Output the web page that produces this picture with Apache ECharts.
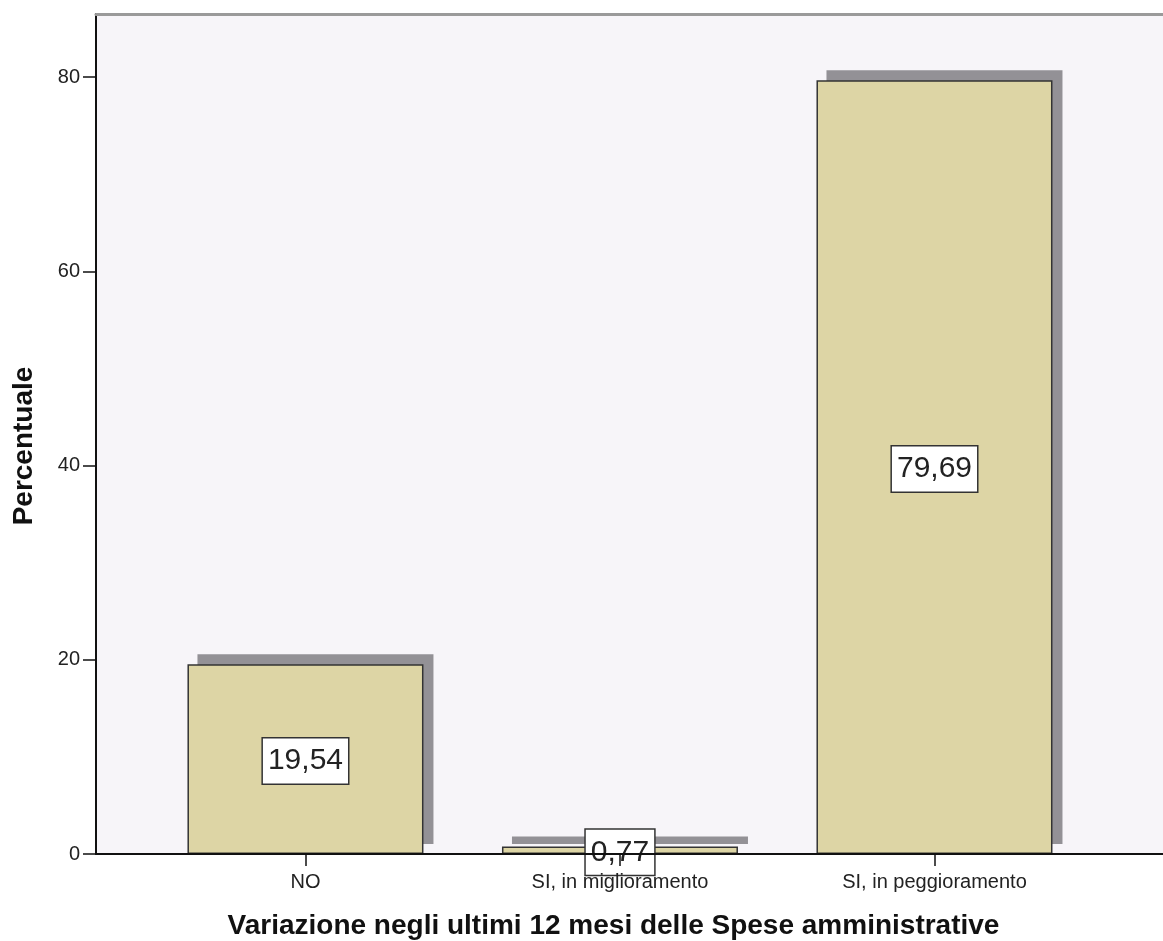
<!DOCTYPE html>
<html>
<head>
<meta charset="utf-8">
<script src="https://cdn.jsdelivr.net/npm/echarts@6/dist/echarts.min.js"></script>
<style>
  html, body { margin: 0; padding: 0; background: #ffffff; }
  #chart { width: 1163px; height: 941px; }
</style>
</head>
<body>
<div id="chart"></div>
<script>
const categories = ['NO', 'SI, in miglioramento', 'SI, in peggioramento'];
const percentages = [19.54, 0.77, 79.69];
const categoryPositions = [0, 1, 2];
const yTicks = [0, 20, 40, 60, 80];
const xTitle = 'Variazione negli ultimi 12 mesi delle Spese amministrative';
const yTitle = 'Percentuale';

const FONT = "'Liberation Sans', Arial, sans-serif";
const X_MIN = -0.666, X_MAX = 2.7266, Y_MIN = 0, Y_MAX = 86.5;
const chart = echarts.init(document.getElementById('chart'), null, { renderer: 'canvas' });

const barData = categoryPositions.map((p, i) => [p, percentages[i]]);

const option = {
  animation: false,
  backgroundColor: '#ffffff',
  grid: [
    { left: 96, top: 14, width: 1067, height: 840, show: true, backgroundColor: '#F7F5F9', borderWidth: 0, outerBoundsMode: 'none' },
    // drop-shadow layer: same scales, shifted 10px right and 10px up
    { left: 106, top: 4, width: 1067, height: 840, show: false, outerBoundsMode: 'none' }
  ],
  xAxis: [
    {
      type: 'value', gridIndex: 0,
      min: X_MIN, max: X_MAX,
      position: 'bottom',
      z: 10,
      axisLine: { show: true, onZero: false, lineStyle: { color: '#111', width: 2 } },
      axisTick: { show: true, customValues: categoryPositions, length: 12, lineStyle: { color: '#111', width: 1.5 } },
      axisLabel: {
        show: true, customValues: categoryPositions, margin: 18,
        formatter: v => categories[Math.round(v)] || '',
        fontFamily: FONT, fontSize: 20, color: '#222'
      },
      splitLine: { show: false },
      name: xTitle, nameLocation: 'middle', nameGap: 58,
      nameTextStyle: { fontFamily: FONT, fontSize: 28, fontWeight: 'bold', color: '#111', padding: [0, 32, 0, 0] }
    },
    {
      type: 'value', gridIndex: 0,
      min: X_MIN, max: X_MAX,
      position: 'top',
      axisLine: { show: true, onZero: false, lineStyle: { color: '#9a9a9a', width: 3 } },
      axisTick: { show: false }, axisLabel: { show: false }, splitLine: { show: false }
    },
    {
      type: 'value', gridIndex: 1,
      min: X_MIN, max: X_MAX, show: false
    }
  ],
  yAxis: [
    {
      type: 'value', gridIndex: 0,
      min: Y_MIN, max: Y_MAX,
      axisLine: { show: true, onZero: false, lineStyle: { color: '#111', width: 2 } },
      axisTick: { show: true, customValues: yTicks, length: 13, lineStyle: { color: '#111', width: 1.5 } },
      axisLabel: {
        show: true, customValues: yTicks, margin: 16,
        fontFamily: FONT, fontSize: 20, color: '#222'
      },
      splitLine: { show: false },
      name: yTitle, nameLocation: 'middle', nameGap: 58,
      nameTextStyle: { fontFamily: FONT, fontSize: 28, fontWeight: 'bold', color: '#111', padding: [0, 24, 0, 0] }
    },
    {
      type: 'value', gridIndex: 1,
      min: Y_MIN, max: Y_MAX, show: false
    }
  ],
  series: [
    {
      type: 'bar',
      name: 'shadow',
      xAxisIndex: 2, yAxisIndex: 1,
      barWidth: 236,
      z: 1,
      silent: true,
      data: barData,
      itemStyle: { color: '#939196' }
    },
    {
      type: 'bar',
      xAxisIndex: 0, yAxisIndex: 0,
      barWidth: 236,
      z: 3,
      data: barData,
      itemStyle: {
        color: '#DDD5A5',
        borderColor: '#333',
        borderWidth: 1.5
      },
      label: {
        show: true,
        position: 'inside',
        offset: [0, 2],
        formatter: p => p.value[1].toFixed(2).replace('.', ','),
        fontFamily: FONT, fontSize: 30, color: '#222',
        backgroundColor: '#ffffff',
        borderColor: '#333', borderWidth: 1.5,
        padding: [8, 5, 7, 5]
      }
    }
  ]
};
chart.setOption(option);
</script>
</body>
</html>
